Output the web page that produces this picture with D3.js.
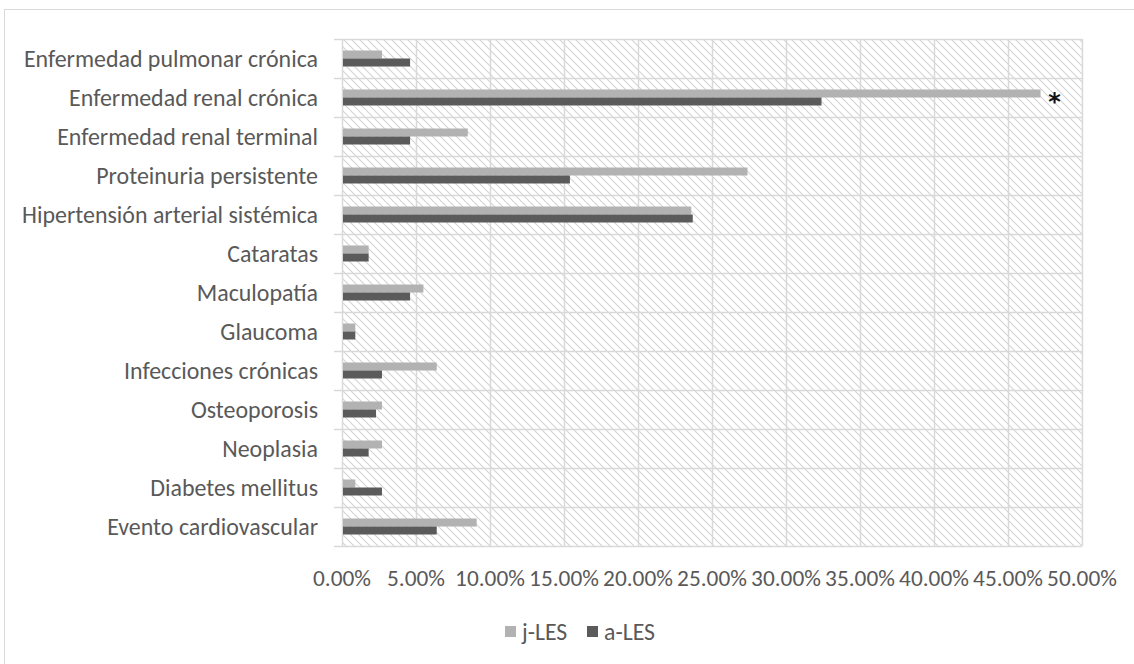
<!DOCTYPE html>
<html><head><meta charset="utf-8">
<script src="https://cdn.jsdelivr.net/npm/d3@7"></script>
<style>body{margin:0;background:#fff}svg{display:block}</style>
</head><body>
<script>
const categories = ["Enfermedad pulmonar crónica","Enfermedad renal crónica","Enfermedad renal terminal","Proteinuria persistente","Hipertensión arterial sistémica","Cataratas","Maculopatía","Glaucoma","Infecciones crónicas","Osteoporosis","Neoplasia","Diabetes mellitus","Evento cardiovascular"];
const jLES = [2.7, 47.2, 8.5, 27.4, 23.6, 1.8, 5.5, 0.9, 6.4, 2.7, 2.7, 0.9, 9.1];
const aLES = [4.6, 32.4, 4.6, 15.4, 23.7, 1.8, 4.6, 0.9, 2.7, 2.3, 1.8, 2.7, 6.4];
const seriesNames = ["j-LES","a-LES"];
const xTicks = [0,5,10,15,20,25,30,35,40,45,50];
const significant = ["Enfermedad renal crónica"];

const W=1134,H=664;
const FONT="Carlito, Calibri, 'Open Sans', sans-serif";
const TXT="#595959", GRID="#d9d9d9";
const colors=["#b2b2b2","#5b5b5b"];
const m={left:342,top:39,right:1082,bottom:546};

const svg=d3.select("body").append("svg").attr("width",W).attr("height",H);
const defs=svg.append("defs");
const pat=defs.append("pattern").attr("id","hatch").attr("patternUnits","userSpaceOnUse").attr("width",8).attr("height",8);
pat.append("rect").attr("width",8).attr("height",8).attr("fill","#fff");
pat.append("path").attr("d","M0,0L8,8M-1,7L1,9M7,-1L9,1").attr("stroke","#d4d4d4").attr("stroke-width",1.1);

svg.append("rect").attr("x",4.5).attr("y",9.5).attr("width",W+20).attr("height",H+20).attr("fill","none").attr("stroke","#d9d9d9");

const x=d3.scaleLinear().domain([0,50]).range([m.left,m.right]);
const y=d3.scaleBand().domain(categories).range([m.top,m.bottom]);
const inner=d3.scaleBand().domain(seriesNames).range([0,16]);

svg.append("rect").attr("x",m.left).attr("y",m.top).attr("width",m.right-m.left).attr("height",m.bottom-m.top).attr("fill","url(#hatch)");

svg.append("g").selectAll("line").data(xTicks).join("line")
 .attr("x1",d=>Math.round(x(d))+0.5).attr("x2",d=>Math.round(x(d))+0.5).attr("y1",m.top).attr("y2",m.bottom)
 .attr("stroke",GRID).attr("stroke-width",1.5);
const bounds=categories.map(c=>y(c)).concat([m.bottom]);
svg.append("g").selectAll("line").data(bounds).join("line")
 .attr("x1",m.left-8).attr("x2",m.right).attr("y1",d=>Math.round(d)+0.5).attr("y2",d=>Math.round(d)+0.5)
 .attr("stroke",GRID).attr("stroke-width",1.5);

const series=[jLES,aLES];
const g=svg.append("g");
series.forEach((vals,si)=>{
  g.selectAll(".b"+si).data(categories).join("rect")
   .attr("x",x(0)+1).attr("y",(c)=>y(c)+y.bandwidth()/2-8+inner(seriesNames[si]))
   .attr("width",(c,i)=>x(vals[i])-x(0)-1).attr("height",inner.bandwidth())
   .attr("fill",colors[si]);
});

function fit(sel,target,base){
  const w=sel.node().getComputedTextLength();
  return base*target/w;
}
const tmp=svg.append("text").attr("font-family",FONT).attr("font-size",20).text("Hipertensión arterial sistémica");
const catSize=fit(tmp,296,20); tmp.remove();
const tmp2=svg.append("text").attr("font-family",FONT).attr("font-size",20).text("0.00%");
const tickSize=fit(tmp2,58,20); tmp2.remove();
const tmp3=svg.append("text").attr("font-family",FONT).attr("font-size",20).text("a-LES");
const legSize=fit(tmp3,51,20); tmp3.remove();

svg.append("g").selectAll("text").data(categories).join("text")
 .attr("x",318).attr("y",c=>y(c)+y.bandwidth()/2).attr("dy","0.35em")
 .attr("text-anchor","end").attr("font-family",FONT).attr("font-size",catSize).attr("fill",TXT).text(c=>c);

svg.append("g").selectAll("text").data(xTicks).join("text")
 .attr("x",d=>x(d)).attr("y",578).attr("dy","0.35em").attr("text-anchor","middle")
 .attr("font-family",FONT).attr("font-size",tickSize).attr("fill",TXT).text(d=>d.toFixed(2)+"%");

svg.append("g").selectAll("text").data(significant).join("text")
 .attr("x",c=>x(jLES[categories.indexOf(c)])+14).attr("y",c=>y(c)+y.bandwidth()/2+12)
 .attr("text-anchor","middle").attr("font-family","'DejaVu Sans', sans-serif").attr("font-weight","bold").attr("font-size",24).attr("fill","#111").text("*");

const legX=[505,587];
const lg=svg.append("g");
seriesNames.forEach((n,i)=>{
  lg.append("rect").attr("x",legX[i]).attr("y",626).attr("width",11).attr("height",11).attr("fill",colors[i]);
  lg.append("text").attr("x",legX[i]+17).attr("y",631.5).attr("dy","0.35em").attr("font-family",FONT).attr("font-size",legSize).attr("fill",TXT).text(n);
});
</script>
</body></html>
